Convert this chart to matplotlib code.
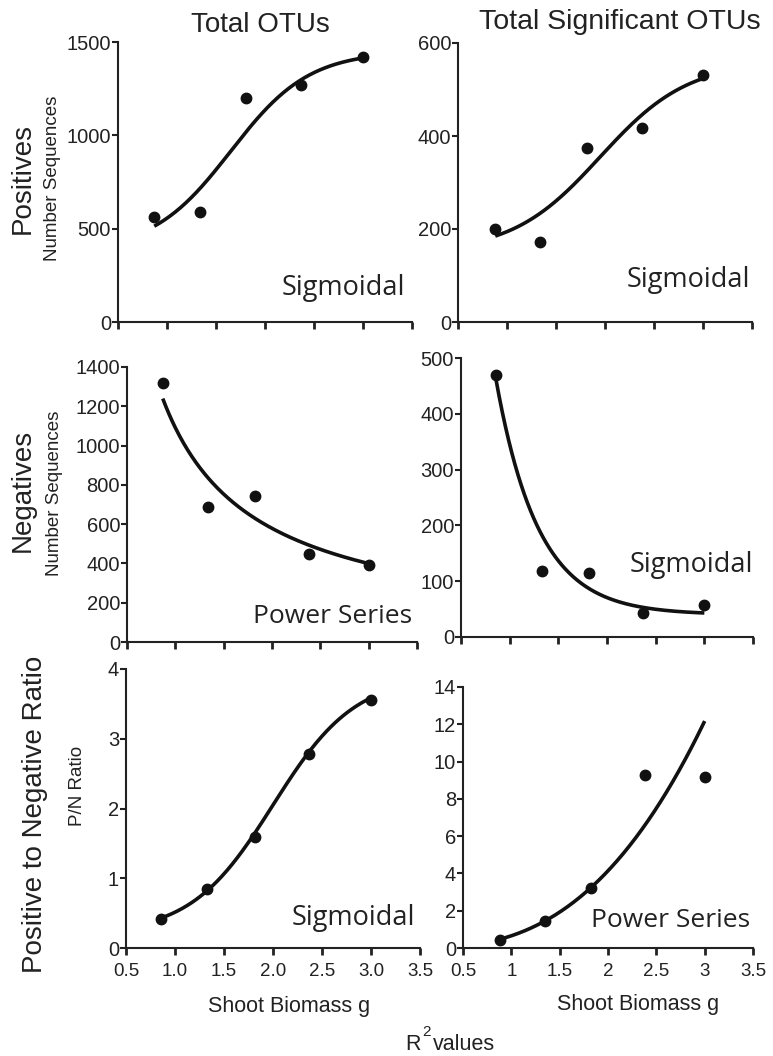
import matplotlib
matplotlib.use("Agg")
import matplotlib.pyplot as plt
import numpy as np

plt.rcParams['font.family'] = ['Liberation Sans', 'DejaVu Sans']

W, H = 773, 1056

# shoot biomass (g) for each of the five samples, per panel
x_pos_tot = [0.87, 1.34, 1.81, 2.37, 3.0]
x_pos_sig = [0.88, 1.34, 1.82, 2.38, 3.0]
x_neg_tot = [0.87, 1.34, 1.82, 2.38, 3.0]
x_neg_sig = [0.86, 1.33, 1.81, 2.37, 3.0]
x_ratio_tot = [0.86, 1.33, 1.82, 2.37, 3.0]
x_ratio_sig = [0.88, 1.35, 1.82, 2.38, 3.0]

# number of sequences / ratios
pos_tot = [564, 587, 1200, 1268, 1418]
pos_sig = [199, 171, 375, 417, 532]
neg_tot = [1318, 687, 743, 450, 390]
neg_sig = [469, 119, 115, 43, 58]
ratio_tot = [0.42, 0.84, 1.59, 2.78, 3.56]
ratio_sig = [0.41, 1.43, 3.22, 9.27, 9.18]

# fitted curve parameters
sig_pos_tot = (380, 1450, 1.65, 0.40)
sig_pos_sig = (150, 560, 1.95, 0.45)
exp_neg_sig = (40, 421, 2.3)
pow_neg_tot = (1091, -0.915)
sig_ratio_tot = (0.2, 3.9, 2.0, 0.42)
pow_ratio_sig = (0.655, 2.66)

x_ticks = [0.5, 1.0, 1.5, 2.0, 2.5, 3.0, 3.5]
labels_left = ['0.5', '1.0', '1.5', '2.0', '2.5', '3.0', '3.5']
labels_right = ['0.5', '1', '1.5', '2', '2.5', '3', '3.5']


def sigmoid(x, p):
    a, b, c, d = p
    return a + (b - a) / (1 + np.exp(-(x - c) / d))


def power(x, p):
    return p[0] * x ** p[1]


def decay(x, p, x0):
    return p[0] + p[1] * np.exp(-p[2] * (x - x0))


def box(l, r, top, bot):
    return [l / W, 1 - bot / H, (r - l) / W, (bot - top) / H]


fig = plt.figure(figsize=(W / 100, H / 100), dpi=100)

panels = [
    (box(118, 412, 42, 322), x_pos_tot, pos_tot, lambda x: sigmoid(x, sig_pos_tot), [0, 500, 1000, 1500], 1500, None),
    (box(458, 752, 43, 322), x_pos_sig, pos_sig, lambda x: sigmoid(x, sig_pos_sig), [0, 200, 400, 600], 600, None),
    (box(127, 417, 367, 642), x_neg_tot, neg_tot, lambda x: power(x, pow_neg_tot), list(range(0, 1401, 200)), 1400, None),
    (box(461, 753, 358, 637), x_neg_sig, neg_sig, lambda x: decay(x, exp_neg_sig, x_neg_sig[0]), list(range(0, 501, 100)), 500, None),
    (box(126, 420, 669, 948), x_ratio_tot, ratio_tot, lambda x: sigmoid(x, sig_ratio_tot), [0, 1, 2, 3, 4], 4, labels_left),
    (box(463, 753, 687, 948), x_ratio_sig, ratio_sig, lambda x: power(x, pow_ratio_sig), list(range(0, 15, 2)), 14, labels_right),
]

for rect, xs, ys, fit, yt, ymax, xl in panels:
    ax = fig.add_axes(rect)
    xx = np.linspace(xs[0], xs[-1], 200)
    ax.plot(xx, fit(xx), color='#111111', lw=2.6, solid_capstyle='butt', clip_on=False)
    ax.plot(xs, ys, 'o', color='#111111', ms=7.5, clip_on=False)
    ax.set_xlim(0.5, 3.5)
    ax.set_ylim(0, ymax)
    ax.set_xticks(x_ticks)
    ax.set_yticks(yt)
    if xl is None:
        ax.set_xticklabels([])
    else:
        ax.set_xticklabels(xl)
    for s in ['top', 'right']:
        ax.spines[s].set_visible(False)
    for s in ['left', 'bottom']:
        ax.spines[s].set_linewidth(1.5)
        ax.spines[s].set_color('#222222')
    ax.tick_params(axis='x', direction='out', length=5, width=2, color='#222222',
                   labelsize=13.5, pad=6, labelcolor='#222222')
    ax.tick_params(axis='y', direction='out', length=4, width=1.5, color='#222222',
                   labelsize=14.5, pad=1, labelcolor='#222222')


def txt(x, y, s, **kw):
    fig.text(x / W, 1 - y / H, s, color='#222222', **kw)


txt(260, 25, 'Total OTUs', fontsize=20, ha='center', va='center')
txt(620, 22, 'Total Significant OTUs', fontsize=20.5, ha='center', va='center')

txt(23, 178, 'Positives', fontsize=20, rotation=90, ha='center', va='center')
txt(53, 178, 'Number Sequences', fontsize=13.5, rotation=90, ha='center', va='center')
txt(23, 490, 'Negatives', fontsize=20, rotation=90, ha='center', va='center')
txt(55, 493, 'Number Sequences', fontsize=13.5, rotation=90, ha='center', va='center')
txt(35, 814, 'Positive to Negative Ratio', fontsize=20, rotation=90, ha='center', va='center')
txt(78, 786, 'P/N Ratio', fontsize=13.5, rotation=90, ha='center', va='center')

fit_font = ['Open Sans', 'DejaVu Sans']
txt(405, 295, 'Sigmoidal', fontsize=19.5, ha='right', va='baseline', family=fit_font)
txt(750, 287, 'Sigmoidal', fontsize=19.5, ha='right', va='baseline', family=fit_font)
txt(412, 623, 'Power Series', fontsize=19, ha='right', va='baseline', family=fit_font)
txt(753, 572, 'Sigmoidal', fontsize=19.5, ha='right', va='baseline', family=fit_font)
txt(415, 925, 'Sigmoidal', fontsize=19.5, ha='right', va='baseline', family=fit_font)
txt(750, 927, 'Power Series', fontsize=19, ha='right', va='baseline', family=fit_font)

txt(289, 1012, 'Shoot Biomass g', fontsize=15.5, ha='center', va='baseline')
txt(638, 1010, 'Shoot Biomass g', fontsize=15.5, ha='center', va='baseline')
# R squared note, superscript drawn as its own text
txt(405, 1050, 'R', fontsize=15.5, ha='left', va='baseline')
txt(422, 1036, '2', fontsize=11, ha='left', va='baseline')
txt(433, 1050, 'values', fontsize=15.5, ha='left', va='baseline')

fig.savefig('out.png', dpi=100)
